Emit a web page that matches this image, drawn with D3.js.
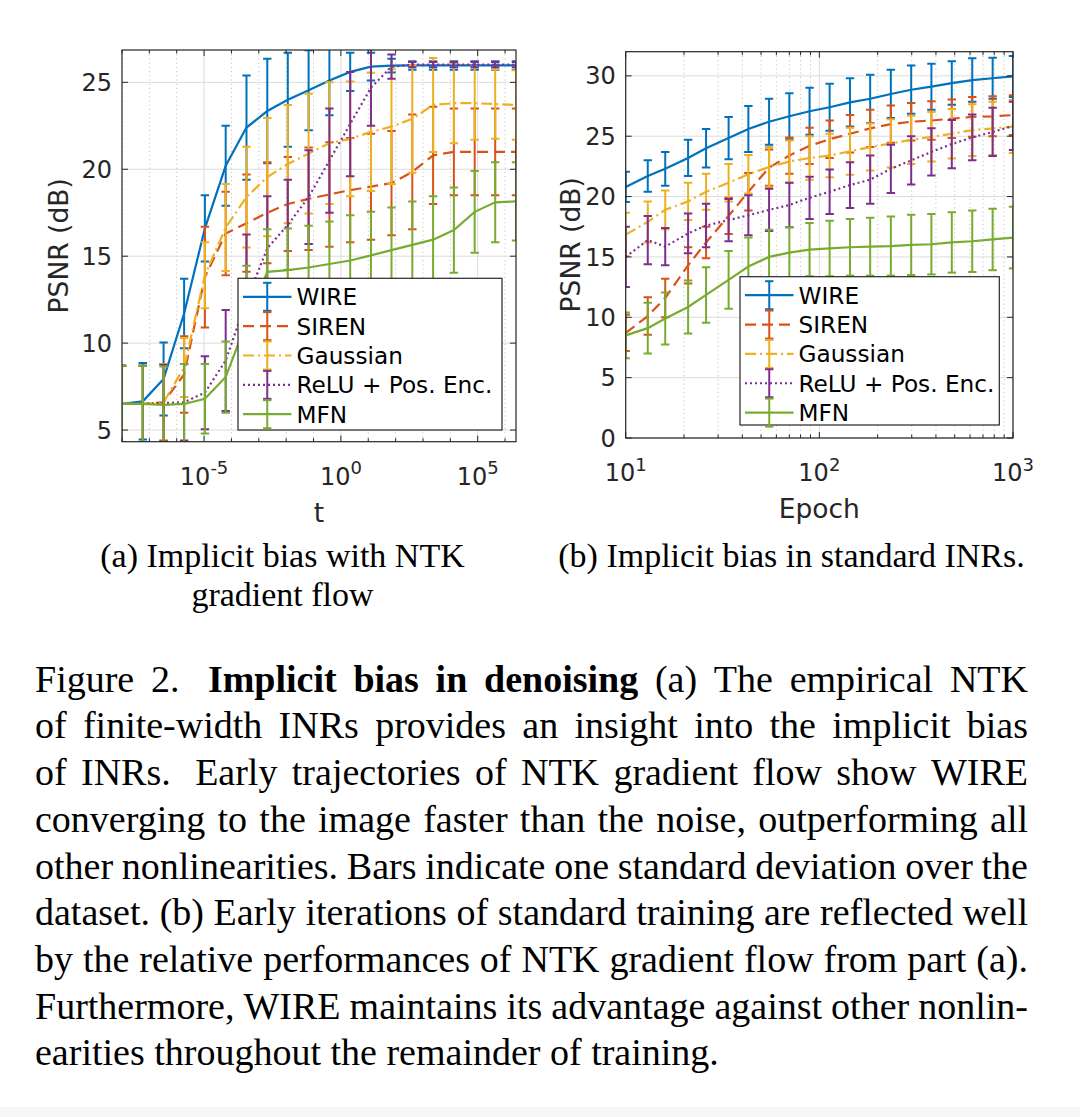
<!DOCTYPE html>
<html><head><meta charset="utf-8">
<script src="https://cdn.jsdelivr.net/npm/d3@7"></script>
<style>body{margin:0;background:#fff;} svg{display:block;}</style>
</head><body>
<svg id="fig" width="1080" height="1117"></svg>
<script>
// ---------- data ----------
const seriesNames  = ["WIRE", "SIREN", "Gaussian", "ReLU + Pos. Enc.", "MFN"];
const seriesColors = ["#0072BD", "#D95319", "#EDB120", "#7E2F8E", "#77AC30"];
const seriesDash   = [null, "11,6", "11,4,2,4", "2,3", null];

// (a) NTK gradient flow: t = 10^exponent
const tExponents = [-8, -7.24, -6.48, -5.73, -4.97, -4.21, -3.45, -2.69, -1.94, -1.18,
                    -0.42, 0.34, 1.10, 1.85, 2.61, 3.37, 4.13, 4.89, 5.64, 6.40];
const ntkWire      = [6.5, 6.65, 7.94, 11.7, 16.6, 20.2, 22.4, 23.35, 24.0, 24.55, 25.1, 25.6, 25.9, 25.96, 25.97, 25.97, 25.97, 25.97, 25.97, 25.97];
const ntkWireStd   = [2.2, 2.2, 2.1, 2.0, 1.9, 2.3, 3.0, 3.0, 2.7, 2.3, 2.0, 1.1, 0.8, 0.4, 0.25, 0.25, 0.25, 0.25, 0.25, 0.25];
const ntkSiren     = [6.5, 6.5, 6.6, 8.2, 13.8, 16.3, 16.9, 17.5, 18.0, 18.3, 18.55, 18.8, 19.0, 19.2, 19.85, 20.8, 21.0, 21.0, 21.0, 21.0];
const ntkSirenStd  = [2.2, 2.2, 2.2, 2.2, 2.9, 2.4, 2.8, 2.9, 2.7, 2.95, 3.0, 3.0, 3.05, 3.0, 3.3, 2.8, 2.5, 2.5, 2.5, 2.5];
const ntkGauss     = [6.5, 6.5, 6.6, 8.6, 13.9, 16.65, 18.4, 19.55, 20.3, 20.9, 21.5, 21.75, 22.15, 22.45, 22.9, 23.7, 23.8, 23.8, 23.75, 23.7];
const ntkGaussStd  = [2.2, 2.2, 2.2, 1.7, 1.9, 2.5, 2.9, 3.4, 3.4, 3.45, 3.5, 3.3, 3.4, 3.3, 3.1, 2.7, 2.3, 2.1, 2.0, 2.0];
const ntkRelu      = [6.5, 6.5, 6.55, 6.6, 7.15, 9.0, 12.45, 15.45, 16.8, 18.4, 20.5, 22.6, 24.7, 25.9, 26.02, 26.02, 26.02, 26.02, 26.02, 26.02];
const ntkReluStd   = [2.2, 2.2, 2.2, 2.2, 2.1, 2.9, 3.8, 3.0, 2.6, 2.7, 3.0, 3.0, 2.2, 0.7, 0.15, 0.15, 0.15, 0.15, 0.15, 0.15];
const ntkMfn       = [6.5, 6.5, 6.45, 6.5, 6.8, 8.05, 11.2, 14.1, 14.2, 14.35, 14.55, 14.75, 15.05, 15.35, 15.65, 15.95, 16.5, 17.55, 18.1, 18.15];
const ntkMfnStd    = [2.2, 2.2, 2.2, 2.3, 2.0, 2.05, 3.25, 2.45, 2.4, 2.4, 2.45, 2.6, 2.5, 2.45, 2.5, 2.5, 2.45, 2.35, 2.3, 2.25];

// (b) standard training
const epochs = [10, 13, 16, 21, 26, 34, 43, 55, 70, 89, 113, 144, 183, 234, 298, 379, 483, 616, 785, 1000];
const trWire      = [20.8, 21.7, 22.3, 23.2, 24.0, 24.85, 25.6, 26.2, 26.65, 27.07, 27.4, 27.8, 28.1, 28.5, 28.85, 29.1, 29.4, 29.65, 29.8, 29.95];
const trWireStd   = [1.25, 1.3, 1.4, 1.5, 1.6, 1.75, 1.9, 1.9, 1.9, 1.95, 1.95, 2.0, 2.0, 2.0, 2.0, 1.9, 1.8, 1.8, 1.7, 1.7];
const trSiren     = [8.7, 10.1, 11.6, 14.3, 16.2, 18.4, 20.4, 22.4, 23.4, 24.2, 24.75, 25.2, 25.65, 26.0, 26.2, 26.3, 26.45, 26.6, 26.65, 26.75];
const trSirenStd  = [1.5, 1.55, 1.6, 1.5, 1.3, 1.5, 1.55, 1.5, 1.5, 1.5, 1.55, 1.55, 1.55, 1.55, 1.55, 1.6, 1.6, 1.65, 1.65, 1.65];
const trGauss     = [16.85, 17.9, 18.9, 19.6, 20.4, 21.15, 21.85, 22.45, 22.9, 23.2, 23.4, 23.75, 24.1, 24.4, 24.7, 24.95, 25.2, 25.5, 25.65, 25.8];
const trGaussStd  = [1.8, 1.7, 1.6, 1.55, 1.5, 1.55, 1.6, 1.65, 1.75, 1.8, 1.8, 1.95, 1.95, 2.0, 2.0, 2.05, 2.05, 2.15, 2.2, 2.2];
const trRelu      = [15.0, 16.4, 15.85, 16.95, 17.6, 18.05, 18.45, 18.9, 19.3, 19.9, 20.4, 20.95, 21.4, 22.3, 23.0, 23.7, 24.35, 24.9, 25.35, 25.85];
const trReluStd   = [2.5, 2.0, 1.55, 1.65, 1.8, 1.75, 1.65, 1.75, 1.85, 1.75, 1.85, 1.9, 2.0, 2.0, 2.0, 1.95, 2.0, 1.9, 2.0, 2.0];
const trMfn       = [8.5, 9.1, 9.9, 10.85, 11.85, 13.1, 14.2, 15.0, 15.35, 15.6, 15.7, 15.8, 15.85, 15.9, 16.0, 16.05, 16.2, 16.3, 16.45, 16.6];
const trMfnStd    = [1.9, 2.1, 2.15, 2.2, 2.3, 2.4, 2.4, 2.25, 2.1, 2.2, 2.3, 2.35, 2.4, 2.45, 2.5, 2.5, 2.5, 2.55, 2.55, 2.55];

// tick labels
const aYTicks = [5, 10, 15, 20, 25];
const aXTickExps = [-5, 0, 5];
const bYTicks = [0, 5, 10, 15, 20, 25, 30];
const bXTickExps = [1, 2, 3];

const yLabel = "PSNR (dB)";
const aXLabel = "t";
const bXLabel = "Epoch";
const subCapA = ["(a) Implicit bias with NTK", "gradient flow"];
const subCapB = ["(b) Implicit bias in standard INRs."];
const captionLines = [
  "Figure 2.  Implicit bias in denoising (a) The empirical NTK",
  "of finite-width INRs provides an insight into the implicit bias",
  "of INRs.  Early trajectories of NTK gradient flow show WIRE",
  "converging to the image faster than the noise, outperforming all",
  "other nonlinearities. Bars indicate one standard deviation over the",
  "dataset. (b) Early iterations of standard training are reflected well",
  "by the relative performances of NTK gradient flow from part (a).",
  "Furthermore, WIRE maintains its advantage against other nonlin-",
  "earities throughout the remainder of training."
];
const captionBoldWords = [[2, 3, 4, 5], [], [], [], [], [], [], [], []];

// ---------- drawing ----------
const svg = d3.select("#fig");
svg.append("rect").attr("width", 1080).attr("height", 1117).attr("fill", "#fff");
svg.append("rect").attr("x", 0).attr("y", 1107).attr("width", 1080).attr("height", 10).attr("fill", "#f6f6f6");

const SANS = "'DejaVu Sans', Verdana, sans-serif";
const SERIF = "'Liberation Serif', 'Times New Roman', serif";
const AX = "#262626";
const TICKFS = 24;

function drawPanel(cfg) {
  const { id, x, y, xs, series, yTicks, xTickExps, minorX, xLabel, yLabelX, legend } = cfg;
  const [x0, x1] = x.range();
  const [y1, y0] = y.range(); // y1 bottom, y0 top
  const g = svg.append("g");
  const clipId = "clip-" + id;
  svg.append("clipPath").attr("id", clipId).append("rect")
    .attr("x", x0).attr("y", y0).attr("width", x1 - x0).attr("height", y1 - y0);

  // grid
  const grid = g.append("g");
  minorX.forEach(v => grid.append("line")
    .attr("x1", x(v)).attr("x2", x(v)).attr("y1", y0).attr("y2", y1)
    .attr("stroke", "#c4c4c4").attr("stroke-width", 1).attr("stroke-dasharray", "1.2,3"));
  xTickExps.forEach(e => grid.append("line")
    .attr("x1", x(Math.pow(10, e))).attr("x2", x(Math.pow(10, e))).attr("y1", y0).attr("y2", y1)
    .attr("stroke", "#dcdcdc").attr("stroke-width", 1));
  yTicks.forEach(v => grid.append("line")
    .attr("x1", x0).attr("x2", x1).attr("y1", y(v)).attr("y2", y(v))
    .attr("stroke", "#dcdcdc").attr("stroke-width", 1));

  // data
  const data = g.append("g").attr("clip-path", `url(#${clipId})`);
  series.forEach((s, si) => {
    const sg = data.append("g");
    const col = seriesColors[si];
    xs.forEach((xv, i) => {
      const cx = x(xv), top = y(s.mean[i] + s.std[i]), bot = y(s.mean[i] - s.std[i]);
      sg.append("line").attr("x1", cx).attr("x2", cx).attr("y1", top).attr("y2", bot)
        .attr("stroke", col).attr("stroke-width", 2);
      [top, bot].forEach(yy => sg.append("line").attr("x1", cx - 4.2).attr("x2", cx + 4.2)
        .attr("y1", yy).attr("y2", yy).attr("stroke", col).attr("stroke-width", 2));
    });
    const line = d3.line().x((d, i) => x(xs[i])).y(d => y(d));
    sg.append("path").attr("d", line(s.mean)).attr("fill", "none")
      .attr("stroke", col).attr("stroke-width", 2.2)
      .attr("stroke-dasharray", seriesDash[si]);
  });

  // axes box
  const ax = g.append("g");
  ax.append("rect").attr("x", x0).attr("y", y0).attr("width", x1 - x0).attr("height", y1 - y0)
    .attr("fill", "none").attr("stroke", AX).attr("stroke-width", 1.2);
  // ticks
  yTicks.forEach(v => {
    ax.append("line").attr("x1", x0).attr("x2", x0 + 6).attr("y1", y(v)).attr("y2", y(v)).attr("stroke", AX);
    ax.append("line").attr("x1", x1).attr("x2", x1 - 6).attr("y1", y(v)).attr("y2", y(v)).attr("stroke", AX);
    ax.append("text").attr("x", x0 - 10).attr("y", y(v)).attr("dy", "0.36em")
      .attr("text-anchor", "end").attr("font-family", SANS).attr("font-size", TICKFS)
      .attr("fill", AX).text(v);
  });
  minorX.forEach(v => {
    ax.append("line").attr("x1", x(v)).attr("x2", x(v)).attr("y1", y1).attr("y2", y1 - 3.5).attr("stroke", AX);
    ax.append("line").attr("x1", x(v)).attr("x2", x(v)).attr("y1", y0).attr("y2", y0 + 3.5).attr("stroke", AX);
  });
  xTickExps.forEach(e => {
    const xv = x(Math.pow(10, e));
    ax.append("line").attr("x1", xv).attr("x2", xv).attr("y1", y1).attr("y2", y1 - 6).attr("stroke", AX);
    ax.append("line").attr("x1", xv).attr("x2", xv).attr("y1", y0).attr("y2", y0 + 6).attr("stroke", AX);
    const t = ax.append("text").attr("x", xv).attr("y", y1 + 43).attr("text-anchor", "middle")
      .attr("font-family", SANS).attr("font-size", TICKFS).attr("fill", AX);
    t.append("tspan").text("10");
    t.append("tspan").attr("dy", -10.5).attr("font-size", 18).text(String(e));
  });
  // labels
  ax.append("text").attr("x", (x0 + x1) / 2).attr("y", y1 + 80).attr("text-anchor", "middle")
    .attr("font-family", SANS).attr("font-size", 26.5).attr("fill", AX).text(xLabel);
  ax.append("text").attr("transform", `translate(${yLabelX},${(y0 + y1) / 2}) rotate(-90)`)
    .attr("dy", "0.36em").attr("text-anchor", "middle")
    .attr("font-family", SANS).attr("font-size", 26.5).attr("fill", AX).text(yLabel);

  // legend
  const lg = g.append("g");
  lg.append("rect").attr("x", legend.x).attr("y", legend.y).attr("width", legend.w).attr("height", legend.h)
    .attr("fill", "#fff").attr("stroke", AX).attr("stroke-width", 1.2);
  seriesNames.forEach((name, si) => {
    const ry = legend.y + 18.5 + si * 29.35;
    const col = seriesColors[si];
    const lx0 = legend.x + 5, lx1 = legend.x + 53.5, lc = (lx0 + lx1) / 2;
    lg.append("line").attr("x1", lx0).attr("x2", lx1).attr("y1", ry).attr("y2", ry)
      .attr("stroke", col).attr("stroke-width", 2.2).attr("stroke-dasharray", seriesDash[si]);
    lg.append("line").attr("x1", lc).attr("x2", lc).attr("y1", ry - 14).attr("y2", ry + 14)
      .attr("stroke", col).attr("stroke-width", 2);
    [ry - 14, ry + 14].forEach(yy => lg.append("line").attr("x1", lc - 4.2).attr("x2", lc + 4.2)
      .attr("y1", yy).attr("y2", yy).attr("stroke", col).attr("stroke-width", 2));
    lg.append("text").attr("x", legend.x + 58.5).attr("y", ry).attr("dy", "0.36em")
      .attr("font-family", SANS).attr("font-size", 23.2).attr("fill", "#000").text(name);
  });
}

const xA = d3.scaleLog().domain([1e-8, Math.pow(10, 6.4)]).range([122, 516]);
const yA = d3.scaleLinear().domain([4.33, 26.86]).range([441.7, 50]);
const minorA = d3.range(-8, 7).filter(e => !aXTickExps.includes(e)).map(e => Math.pow(10, e));
drawPanel({
  id: "a", x: xA, y: yA, xs: tExponents.map(e => Math.pow(10, e)),
  series: [
    { mean: ntkWire, std: ntkWireStd }, { mean: ntkSiren, std: ntkSirenStd },
    { mean: ntkGauss, std: ntkGaussStd }, { mean: ntkRelu, std: ntkReluStd },
    { mean: ntkMfn, std: ntkMfnStd }],
  yTicks: aYTicks, xTickExps: aXTickExps, minorX: minorA, xLabel: aXLabel, yLabelX: 58,
  legend: { x: 238, y: 278.3, w: 264, h: 151.7 }
});

const xB = d3.scaleLog().domain([10, 1000]).range([625.7, 1013]);
const yB = d3.scaleLinear().domain([0, 32]).range([438, 51.7]);
const minorB = [20, 30, 40, 50, 60, 70, 80, 90, 200, 300, 400, 500, 600, 700, 800, 900];
drawPanel({
  id: "b", x: xB, y: yB, xs: epochs,
  series: [
    { mean: trWire, std: trWireStd }, { mean: trSiren, std: trSirenStd },
    { mean: trGauss, std: trGaussStd }, { mean: trRelu, std: trReluStd },
    { mean: trMfn, std: trMfnStd }],
  yTicks: bYTicks, xTickExps: bXTickExps, minorX: minorB, xLabel: bXLabel, yLabelX: 570,
  legend: { x: 740, y: 276.7, w: 259.3, h: 148.3 }
});

// sub captions
subCapA.forEach((s, i) => svg.append("text").attr("x", 282.5).attr("y", 566.7 + i * 39)
  .attr("text-anchor", "middle").attr("font-family", SERIF).attr("font-size", 34).attr("fill", "#000").text(s));
subCapB.forEach((s, i) => svg.append("text").attr("x", 791.5).attr("y", 566.7 + i * 39)
  .attr("text-anchor", "middle").attr("font-family", SERIF).attr("font-size", 34).attr("fill", "#000").text(s));

// caption (justified)
const capG = svg.append("g");
const CX0 = 35, CX1 = 1028;
captionLines.forEach((str, li) => {
  const yy = 691.7 + li * 46.7;
  const parts = str.split(" ");
  const words = [], weights = [];
  let pending = 1;
  parts.forEach(p => {
    if (p === "") { pending += 0.7; return; }
    if (words.length) weights.push(pending);
    words.push(p); pending = 1;
  });
  const nodes = words.map((w, wi) => capG.append("text").attr("y", yy)
    .attr("font-family", SERIF).attr("font-size", 38).attr("fill", "#000")
    .attr("font-weight", captionBoldWords[li].includes(wi) ? "bold" : "normal").text(w));
  const widths = nodes.map(n => n.node().getComputedTextLength());
  const total = d3.sum(widths);
  const justify = li < captionLines.length - 1;
  const unit = justify ? (CX1 - CX0 - total) / d3.sum(weights) : 9.5;
  let cx = CX0;
  nodes.forEach((n, i) => {
    n.attr("x", cx);
    cx += widths[i] + (i < weights.length ? weights[i] * unit : 0);
  });
});
</script>
</body></html>
